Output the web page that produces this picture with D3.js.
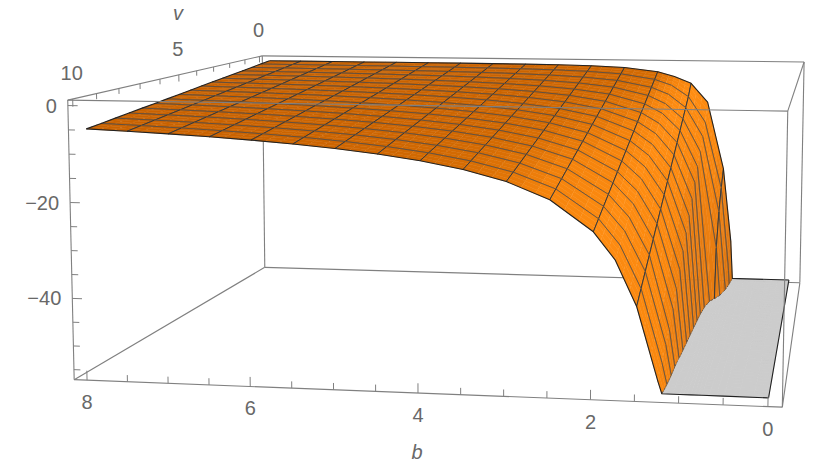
<!DOCTYPE html>
<html>
  <head>
    <title>Surface over b and v</title>
    <meta charset="utf-8">
    <style>
      body { margin: 0; background: #fff; }
      text { font-family: "Liberation Sans", Arial, sans-serif; fill: #686868; font-size: 20px; }
    </style>
  </head>
  <body>
    <div id="figure"></div>
    <script src="https://cdnjs.cloudflare.com/ajax/libs/d3/7.8.5/d3.min.js"></script>
    <script type="text/javascript">
    // grid the surface is sampled on
    var bValues = [8, 7.5, 7, 6.5, 6, 5.5, 5, 4.5, 4, 3.5, 3, 2.5, 2, 1.75, 1.5, 1.25, 1, 0.875, 0.75, 0.5, 0];
    var vValues = [0, 0.625, 1.25, 1.875, 2.5, 3.125, 3.75, 4.375, 5, 5.625, 6.25, 6.875, 7.5, 8.125, 8.75, 9.375, 10];
    // one row per b, one column per v
    var zValues = [
      [-0.01, -0.32, -0.63, -0.95, -1.26, -1.57, -1.88, -2.2, -2.51, -2.82, -3.14, -3.45, -3.76, -4.08, -4.39, -4.7, -5.01],
      [-0.01, -0.34, -0.68, -1.01, -1.34, -1.68, -2.01, -2.35, -2.68, -3.01, -3.35, -3.68, -4.02, -4.35, -4.68, -5.02, -5.35],
      [-0.01, -0.37, -0.73, -1.09, -1.44, -1.8, -2.16, -2.52, -2.88, -3.23, -3.59, -3.95, -4.31, -4.67, -5.02, -5.38, -5.74],
      [-0.02, -0.4, -0.79, -1.17, -1.56, -1.94, -2.33, -2.72, -3.1, -3.49, -3.87, -4.26, -4.64, -5.03, -5.42, -5.8, -6.19],
      [-0.02, -0.44, -0.86, -1.28, -1.69, -2.11, -2.53, -2.95, -3.37, -3.79, -4.2, -4.62, -5.04, -5.46, -5.88, -6.3, -6.71],
      [-0.03, -0.49, -0.94, -1.4, -1.86, -2.31, -2.77, -3.23, -3.68, -4.14, -4.6, -5.05, -5.51, -5.97, -6.42, -6.88, -7.34],
      [-0.04, -0.55, -1.05, -1.55, -2.06, -2.56, -3.06, -3.57, -4.07, -4.57, -5.08, -5.58, -6.08, -6.59, -7.09, -7.59, -8.1],
      [-0.07, -0.63, -1.19, -1.75, -2.31, -2.87, -3.43, -3.99, -4.55, -5.11, -5.67, -6.23, -6.79, -7.35, -7.91, -8.47, -9.04],
      [-0.11, -0.74, -1.37, -2, -2.64, -3.27, -3.9, -4.54, -5.17, -5.8, -6.44, -7.07, -7.7, -8.34, -8.97, -9.6, -10.23],
      [-0.18, -0.9, -1.64, -2.36, -3.09, -3.82, -4.55, -5.28, -6, -6.73, -7.46, -8.19, -8.91, -9.65, -10.37, -11.1, -11.83],
      [-0.33, -1.19, -2.05, -2.91, -3.77, -4.63, -5.49, -6.34, -7.21, -8.06, -8.92, -9.78, -10.64, -11.49, -12.36, -13.22, -14.07],
      [-0.69, -1.74, -2.8, -3.85, -4.9, -5.96, -7.01, -8.06, -9.11, -10.17, -11.22, -12.27, -13.32, -14.38, -15.43, -16.48, -17.54],
      [-1.69, -3.07, -4.45, -5.82, -7.2, -8.58, -9.96, -11.34, -12.72, -14.1, -15.48, -16.86, -18.23, -19.61, -20.99, -22.37, -23.75],
      [-2.88, -4.53, -6.18, -7.83, -9.47, -11.12, -12.77, -14.42, -16.07, -17.72, -19.37, -21.01, -22.66, -24.31, -25.96, -27.61, -29.26],
      [-4.6, -7.41, -9.48, -11.55, -13.63, -15.7, -17.78, -19.85, -21.92, -24, -26.08, -28.14, -30.22, -32.3, -34.37, -36.44, -38.52],
      [-9.5, -13.9, -16.75, -19.59, -22.44, -25.28, -28.13, -30.97, -33.82, -36.66, -39.51, -42.35, -45.2, -48.04, -49.5, -51.5, -53.5],
      [-27, -31, -36, -44, -65.7, -75, -80, -81, -82, -82, -81, -80, -78, -76, -73, -70, -67],
      [-46, -52.4, -59, -70, -95, -110, -120, -130, -140, -150, -160, -170, -180, -190, -200, -210, -220],
      [-85, -95, -105, -115, -125, -136, -146, -157, -167, -178, -188, -199, -209, -220, -230, -241, -251],
      [-432, -470, -508, -546, -584, -622, -660, -698, -736, -774, -812, -850, -888, -926, -964, -1002, -1040],
      [-1000, -1000, -1000, -1000, -1000, -1000, -1000, -1000, -1000, -1000, -1000, -1000, -1000, -1000, -1000, -1000, -1000]
    ];
    var bMesh = [7.5, 7, 6.5, 6, 5.5, 5, 4.5, 4, 3.5, 3, 2.5, 2, 1.5, 1, 0.5];
    var vMesh = [0.625, 1.25, 1.875, 2.5, 3.125, 3.75, 4.375, 5, 5.625, 6.25, 6.875, 7.5, 8.125, 8.75, 9.375];

    var bTicks = [0, 2, 4, 6, 8];
    var bMinorTicks = [0.5, 1, 1.5, 2.5, 3, 3.5, 4.5, 5, 5.5, 6.5, 7, 7.5];
    var vTicks = [0, 5, 10];
    var vMinorTicks = [1, 2, 3, 4, 6, 7, 8, 9];
    var zTicks = [0, -20, -40];
    var zMinorTicks = [-5, -10, -15, -25, -30, -35, -45, -50, -55];

    var W = 830;
    var H = 472;
    var FLOOR = -56;
    var SUB = 3;

    var bDomain = [-0.16, 8.16];
    var vDomain = [-0.2, 10.2];
    var zDomain = [-57.12, 1.12];

    var bUnit = d3.scaleLinear().domain(bDomain).range([0, 1]);
    var vUnit = d3.scaleLinear().domain(vDomain).range([0, 1]);
    var zUnit = d3.scaleLinear().domain(zDomain).range([0, 1]);

    // where the corners of the box land on the page, used to fit the camera
    var boxCorners = [
      [1, 1, 1, 68, 100], [1, 1, 0, 74, 380], [0, 1, 1, 788, 111], [0, 1, 0, 782, 407],
      [1, 0, 1, 262, 56], [1, 0, 0, 265, 267], [0, 0, 1, 804, 62], [0, 0, 0, 800, 283]
    ];

    var solve = function(A, y){
        var n = y.length;
        for(var i = 0; i < n; i++){
            var best = i;
            for(var r = i + 1; r < n; r++){
                if(Math.abs(A[r][i]) > Math.abs(A[best][i])){
                    best = r;
                }
            }
            var t = A[i]; A[i] = A[best]; A[best] = t;
            t = y[i]; y[i] = y[best]; y[best] = t;
            for(var r = i + 1; r < n; r++){
                var f = A[r][i] / A[i][i];
                for(var c = i; c < n; c++){
                    A[r][c] -= f * A[i][c];
                }
                y[r] -= f * y[i];
            }
        }
        var out = new Array(n);
        for(var i = n - 1; i >= 0; i--){
            var s = y[i];
            for(var c = i + 1; c < n; c++){
                s -= A[i][c] * out[c];
            }
            out[i] = s / A[i][i];
        }
        return out;
    };

    var fitCamera = function(corners){
        var rows = [], rhs = [];
        corners.forEach(function(k){
            var u = k[0], w = k[1], t = k[2], x = k[3], y = k[4];
            rows.push([u, w, t, 1, 0, 0, 0, 0, -x * u, -x * w, -x * t]);
            rhs.push(x);
            rows.push([0, 0, 0, 0, u, w, t, 1, -y * u, -y * w, -y * t]);
            rhs.push(y);
        });
        var AtA = [], Atb = [];
        d3.range(11).forEach(function(i){
            AtA.push(d3.range(11).map(function(j){
                return d3.sum(rows, function(r){ return r[i] * r[j]; });
            }));
            Atb.push(d3.sum(rows, function(r, k){ return r[i] * rhs[k]; }));
        });
        return solve(AtA, Atb);
    };

    var cam = fitCamera(boxCorners);

    var project = function(b, v, z){
        var u = bUnit(b), w = vUnit(v), t = zUnit(z);
        var d = cam[8] * u + cam[9] * w + cam[10] * t + 1;
        return [
            (cam[0] * u + cam[1] * w + cam[2] * t + cam[3]) / d,
            (cam[4] * u + cam[5] * w + cam[6] * t + cam[7]) / d
        ];
    };

    var pathLine = d3.line();
    var pathOf = function(pts){
        return pathLine(pts.map(function(p){ return project(p[0], p[1], p[2]); }));
    };

    // steepness of the surface at each grid node, in box proportions
    var SB = 8.32 * 0.4 / 58.24;
    var SV = 10.4 * 0.4 / 58.24;
    var zAt = function(i, j){
        return Math.max(zValues[i][j], -130);
    };
    var tilt = bValues.map(function(b, i){
        return vValues.map(function(v, j){
            var i0 = Math.max(i - 1, 0), i1 = Math.min(i + 1, bValues.length - 1);
            var j0 = Math.max(j - 1, 0), j1 = Math.min(j + 1, vValues.length - 1);
            var db = (zAt(i1, j) - zAt(i0, j)) / (bValues[i1] - bValues[i0]) * SB;
            var dv = (zAt(i, j1) - zAt(i, j0)) / (vValues[j1] - vValues[j0]) * SV;
            return Math.atan(Math.sqrt(db * db + dv * dv));
        });
    });

    var shade = d3.scaleLinear()
        .domain([0, 0.2, 0.45, 0.8, 1.3, 1.47, 1.53])
        .range(['rgb(197,95,0)', 'rgb(212,107,3)', 'rgb(244,131,12)', 'rgb(255,141,18)', 'rgb(250,136,15)', 'rgb(228,122,16)', 'rgb(205,108,14)'])
        .clamp(true);

    // keep the part of a polygon above (or below) the floor
    var clipPoly = function(poly, above){
        var out = [];
        var cut = [];
        for(var i = 0; i < poly.length; i++){
            var p = poly[i], q = poly[(i + 1) % poly.length];
            var pin = above ? p[2] >= FLOOR : p[2] < FLOOR;
            var qin = above ? q[2] >= FLOOR : q[2] < FLOOR;
            if(pin){
                out.push(p);
            }
            if(pin !== qin){
                var f = (FLOOR - p[2]) / (q[2] - p[2]);
                var c = [p[0] + f * (q[0] - p[0]), p[1] + f * (q[1] - p[1]), FLOOR];
                out.push(c);
                cut.push(c);
            }
        }
        return {poly: out, cut: cut};
    };

    // split a segment where it meets the floor and flatten what is below it
    var floored = function(pts){
        var out = [];
        for(var i = 0; i < pts.length; i++){
            var p = pts[i];
            if(i > 0){
                var o = pts[i - 1];
                if((o[2] < FLOOR) !== (p[2] < FLOOR)){
                    var f = (FLOOR - o[2]) / (p[2] - o[2]);
                    out.push([o[0] + f * (p[0] - o[0]), o[1] + f * (p[1] - o[1]), FLOOR]);
                }
            }
            out.push([p[0], p[1], Math.max(p[2], FLOOR)]);
        }
        return out;
    };

    // only what is above the floor carries a mesh line
    var meshPart = function(p, q){
        if(p[2] < FLOOR && q[2] < FLOOR){
            return null;
        }
        if(p[2] >= FLOOR && q[2] >= FLOOR){
            return [p, q];
        }
        var f = (FLOOR - p[2]) / (q[2] - p[2]);
        var c = [p[0] + f * (q[0] - p[0]), p[1] + f * (q[1] - p[1]), FLOOR];
        return p[2] >= FLOOR ? [p, c] : [c, q];
    };

    var pieces = [];
    var addFill = function(d, fill, width){
        pieces.push({d: d, fill: fill, stroke: fill, width: width});
    };

    var bilinear = function(a, c, s){
        return (1 - a) * (1 - c) * s[0] + a * (1 - c) * s[1] + (1 - a) * c * s[2] + a * c * s[3];
    };

    var addCell = function(i, j){
        var b0 = bValues[i], b1 = bValues[i + 1], v0 = vValues[j], v1 = vValues[j + 1];
        var z00 = zValues[i][j], z10 = zValues[i + 1][j], z01 = zValues[i][j + 1], z11 = zValues[i + 1][j + 1];
        var zs = [z00, z10, z01, z11];
        var ts = [tilt[i][j], tilt[i + 1][j], tilt[i][j + 1], tilt[i + 1][j + 1]];
        var node = function(a, c){
            return [b0 + a * (b1 - b0), v0 + c * (v1 - v0), bilinear(a, c, zs)];
        };
        for(var sj = 0; sj < SUB; sj++){
            for(var si = 0; si < SUB; si++){
                var a0 = si / SUB, a1 = (si + 1) / SUB, c0 = sj / SUB, c1 = (sj + 1) / SUB;
                var quad = [node(a0, c0), node(a1, c0), node(a1, c1), node(a0, c1)];
                var upper = clipPoly(quad, true);
                var lower = clipPoly(quad, false);
                if(lower.poly.length > 2){
                    addFill(pathOf(lower.poly.map(function(p){ return [p[0], p[1], FLOOR]; })), '#cccccc', 0.9);
                }
                if(upper.poly.length > 2){
                    addFill(pathOf(upper.poly), shade(bilinear((a0 + a1) / 2, (c0 + c1) / 2, ts)), 0.5);
                }
                if(upper.cut.length === 2){
                    pieces.push({d: pathOf(upper.cut), fill: 'none', stroke: '#4a4a4a', width: 0.8});
                }
            }
        }
        // mesh lines are painted with the cell so nearer cells can hide them
        var edges = [];
        if(bMesh.indexOf(b0) >= 0){ edges.push([[b0, v0, z00], [b0, v1, z01], '#33383d', 0.95]); }
        if(bMesh.indexOf(b1) >= 0){ edges.push([[b1, v0, z10], [b1, v1, z11], '#33383d', 0.95]); }
        if(vMesh.indexOf(v0) >= 0){ edges.push([[b0, v0, z00], [b1, v0, z10], '#4b4b4c', 0.75]); }
        if(vMesh.indexOf(v1) >= 0){ edges.push([[b0, v1, z01], [b1, v1, z11], '#4b4b4c', 0.75]); }
        edges.forEach(function(e){
            var m = meshPart(e[0], e[1]);
            if(m){
                pieces.push({d: pathOf(m), fill: 'none', stroke: e[2], width: e[3]});
            }
        });
    };

    for(var j = 0; j < vValues.length - 1; j++){
        for(var i = 0; i < bValues.length - 1; i++){
            addCell(i, j);
        }
    }

    var svg = d3.select('#figure').append('svg')
        .attr('width', W)
        .attr('height', H)
        .style('display', 'block');

    var bMin = bDomain[0], bMax = bDomain[1], vMin = vDomain[0], vMax = vDomain[1], zMin = zDomain[0], zMax = zDomain[1];

    var boxEdge = function(g, a, c){
        g.append('path')
            .attr('d', pathOf([a, c]))
            .attr('fill', 'none')
            .attr('stroke', '#808080')
            .attr('stroke-width', 1.1);
    };

    // box edges behind the surface
    var behind = svg.append('g');
    [
      [[bMax, vMin, zMax], [bMin, vMin, zMax]],
      [[bMax, vMin, zMin], [bMin, vMin, zMin]],
      [[bMax, vMin, zMax], [bMax, vMin, zMin]],
      [[bMin, vMin, zMax], [bMin, vMin, zMin]],
      [[bMax, vMax, zMin], [bMax, vMin, zMin]],
      [[bMin, vMax, zMin], [bMin, vMin, zMin]],
      [[bMax, vMax, zMax], [bMax, vMin, zMax]],
      [[bMin, vMax, zMax], [bMin, vMin, zMax]]
    ].forEach(function(e){ boxEdge(behind, e[0], e[1]); });

    svg.append('g').selectAll('path')
        .data(pieces)
        .enter()
        .append('path')
        .attr('d', function(d){ return d.d; })
        .attr('fill', function(d){ return d.fill; })
        .attr('stroke', function(d){ return d.stroke; })
        .attr('stroke-width', function(d){ return d.width; })
        .attr('stroke-linejoin', 'round');

    // dark outline of the surface and of the floor patch
    var outlines = [
      vValues.map(function(v, j){ return [bValues[0], v, zValues[0][j]]; }),
      vValues.map(function(v){ return [0, v, FLOOR]; }),
      bValues.map(function(b, i){ return [b, vValues[0], zValues[i][0]]; }),
      bValues.map(function(b, i){ return [b, vValues[16], zValues[i][16]]; })
    ];
    svg.append('g').selectAll('path')
        .data(outlines)
        .enter()
        .append('path')
        .attr('d', function(d){ return pathOf(floored(d)); })
        .attr('fill', 'none')
        .attr('stroke', '#222')
        .attr('stroke-width', 1.1)
        .attr('stroke-linejoin', 'round');

    // box edges in front of the surface
    var before = svg.append('g');
    [
      [[bMax, vMax, zMax], [bMin, vMax, zMax]],
      [[bMax, vMax, zMin], [bMin, vMax, zMin]],
      [[bMax, vMax, zMax], [bMax, vMax, zMin]],
      [[bMin, vMax, zMax], [bMin, vMax, zMin]]
    ].forEach(function(e){ boxEdge(before, e[0], e[1]); });

    var tick = function(a, c){
        before.append('path')
            .attr('d', pathOf([a, c]))
            .attr('fill', 'none')
            .attr('stroke', '#808080')
            .attr('stroke-width', 1);
    };

    bTicks.forEach(function(b){ tick([b, vMax, zMin], [b, vMax, zMin + 2]); });
    bMinorTicks.forEach(function(b){ tick([b, vMax, zMin], [b, vMax, zMin + 1.4]); });
    zTicks.forEach(function(z){ tick([bMax, vMax, z], [bMax - 0.12, vMax, z]); });
    zMinorTicks.forEach(function(z){ tick([bMax, vMax, z], [bMax - 0.08, vMax, z]); });
    vTicks.forEach(function(v){ tick([bMax, v, zMax], [bMax, v, zMax - 1.6]); });
    vMinorTicks.forEach(function(v){ tick([bMax, v, zMax], [bMax, v, zMax - 1.2]); });

    var label = function(p, dx, dy, s, anchor){
        return svg.append('text')
            .attr('x', p[0] + dx)
            .attr('y', p[1] + dy)
            .attr('text-anchor', anchor)
            .attr('dominant-baseline', 'central')
            .text(s);
    };

    bTicks.forEach(function(b){
        label(project(b, vMax, zMin), 0, 22, String(b), 'middle');
    });
    vTicks.forEach(function(v){
        label(project(bMax, v, zMax), -1, -26, String(v), 'middle');
    });
    zTicks.forEach(function(z){
        label(project(bMax, vMax, z), -11, 0, String(z).replace('-', '\u2212'), 'end');
    });

    label([178, 13], 0, 0, 'v', 'middle').style('font-style', 'italic');
    label([417, 452], 0, 0, 'b', 'middle').style('font-style', 'italic');
    </script>
  </body>
</html>
